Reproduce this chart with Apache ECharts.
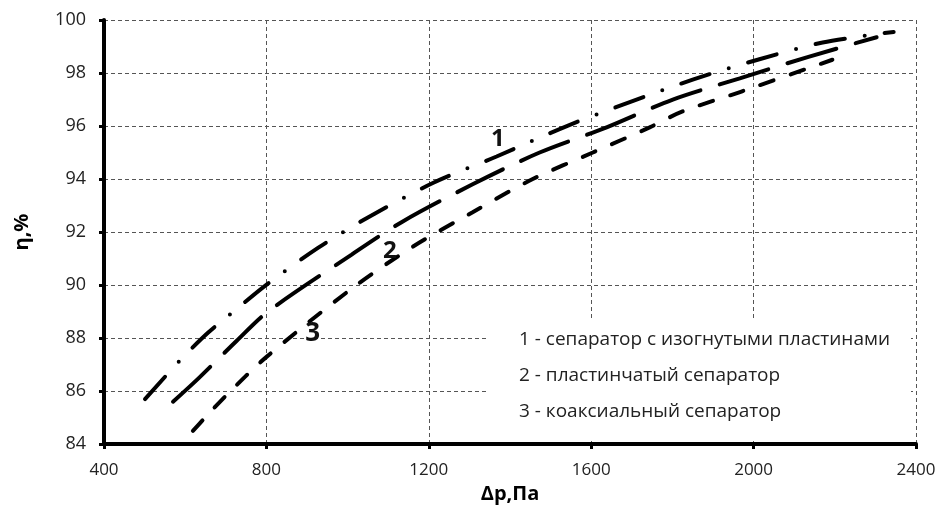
<!DOCTYPE html>
<html>
<head>
<meta charset="utf-8">
<script src="https://cdn.jsdelivr.net/npm/echarts@6/dist/echarts.min.js"></script>
<style>
  html, body { margin: 0; padding: 0; background: #fff; }
  #chart { width: 941px; height: 509px; }
</style>
</head>
<body>
<div id="chart"></div>
<script>
// Δp, Па / η, %
const xTicks = [400, 800, 1200, 1600, 2000, 2400];
const yTicks = [84, 86, 88, 90, 92, 94, 96, 98, 100];

// 1 - сепаратор с изогнутыми пластинами
const dp1 = [501, 590, 656, 727, 799, 927, 1050, 1210, 1367, 1540, 1695, 1850, 2010, 2170, 2345];
const eta1 = [85.7, 87.2, 88.2, 89.1, 90.0, 91.4, 92.55, 93.85, 94.85, 96.0, 96.9, 97.75, 98.5, 99.15, 99.55];

// 2 - пластинчатый сепаратор
const dp2 = [570, 634, 727, 804, 1010, 1136, 1308, 1473, 1638, 1801, 1966, 2133, 2303];
const eta2 = [85.6, 86.5, 87.9, 89.0, 91.15, 92.4, 93.8, 95.0, 95.95, 97.0, 97.8, 98.6, 99.35];

// 3 - коаксиальный сепаратор
const dp3 = [619, 649, 705, 801, 1013, 1161, 1308, 1456, 1604, 1744, 1825, 1970, 2194];
const eta3 = [84.5, 85.0, 85.9, 87.3, 89.9, 91.45, 92.75, 94.0, 95.0, 95.95, 96.55, 97.3, 98.5];

// подписи кривых
const curveLabels = ['1', '2', '3'];
const curveLabelPos = [[1370, 95.5], [1104, 91.27], [914, 88.18]];

const legendLines = [
  '1 - сепаратор с изогнутыми пластинами',
  '2 - пластинчатый сепаратор',
  '3 - коаксиальный сепаратор'
];

function pairs(xs, ys) {
  return xs.map((x, i) => [x, ys[i]]);
}

const FONT = '"Open Sans", "Noto Sans", sans-serif';

var myChart = echarts.init(document.getElementById('chart'));

function curve(name, data, dash, idx) {
  return {
    name: name,
    type: 'line',
    data: data,
    smooth: 0.3,
    symbol: 'none',
    silent: true,
    lineStyle: {
      color: '#000',
      width: 4,
      type: dash,
      cap: 'round'
    },
    markPoint: {
      symbol: 'circle',
      symbolSize: 0,
      silent: true,
      label: {
        show: true,
        formatter: curveLabels[idx],
        color: '#111',
        fontFamily: FONT,
        fontWeight: 'bold',
        fontSize: idx === 2 ? 26 : 24
      },
      data: [{ coord: curveLabelPos[idx] }]
    }
  };
}

// белая подложка под подписью (перекрывает сетку), затем строки текста
let legendGraphics = [{
  type: 'rect',
  silent: true,
  z: 10,
  shape: { x: 487, y: 318, width: 424, height: 123 },
  style: { fill: '#fff' }
}].concat(legendLines.map((t, i) => ({
  type: 'text',
  silent: true,
  z: 11,
  x: 519,
  y: 339.5 + i * 36,
  style: {
    text: t,
    fill: '#222',
    font: '19px ' + FONT,
    verticalAlign: 'middle'
  }
})));

let options = {
  animation: false,
  backgroundColor: '#fff',
  grid: {
    left: 104,
    right: 25,
    top: 20,
    bottom: 64
  },
  xAxis: {
    type: 'value',
    min: xTicks[0],
    max: xTicks[xTicks.length - 1],
    interval: 400,
    name: 'Δp,Па',
    nameLocation: 'middle',
    nameGap: 36,
    nameTextStyle: {
      color: '#000',
      fontFamily: FONT,
      fontWeight: 'bold',
      fontSize: 20
    },
    axisLine: { show: true, onZero: false, lineStyle: { color: '#000', width: 4 } },
    axisTick: { show: true, length: 5, lineStyle: { color: '#000', width: 3 } },
    axisLabel: {
      color: '#222',
      fontFamily: FONT,
      fontSize: 17,
      margin: 18,
      formatter: (v) => String(v)
    },
    splitLine: { show: true, lineStyle: { color: '#555', width: 1, type: [4, 3] } }
  },
  yAxis: {
    type: 'value',
    min: yTicks[0],
    max: yTicks[yTicks.length - 1],
    interval: 2,
    name: 'η,%',
    nameLocation: 'middle',
    nameGap: 72,
    nameTextStyle: {
      color: '#000',
      fontFamily: FONT,
      fontWeight: 'bold',
      fontSize: 20
    },
    axisLine: { show: true, lineStyle: { color: '#000', width: 4 } },
    axisTick: { show: true, length: 5, lineStyle: { color: '#000', width: 3 } },
    axisLabel: { color: '#222', fontFamily: FONT, fontSize: 18, margin: 18 },
    splitLine: { show: true, lineStyle: { color: '#555', width: 1, type: [4, 3] } }
  },
  series: [
    curve('1', pairs(dp1, eta1), [30, 20, 0, 20], 0),
    curve('2', pairs(dp2, eta2), [51, 20], 1),
    curve('3', pairs(dp3, eta3), [14, 18], 2)
  ],
  graphic: legendGraphics
};

myChart.setOption(options);
</script>
</body>
</html>
